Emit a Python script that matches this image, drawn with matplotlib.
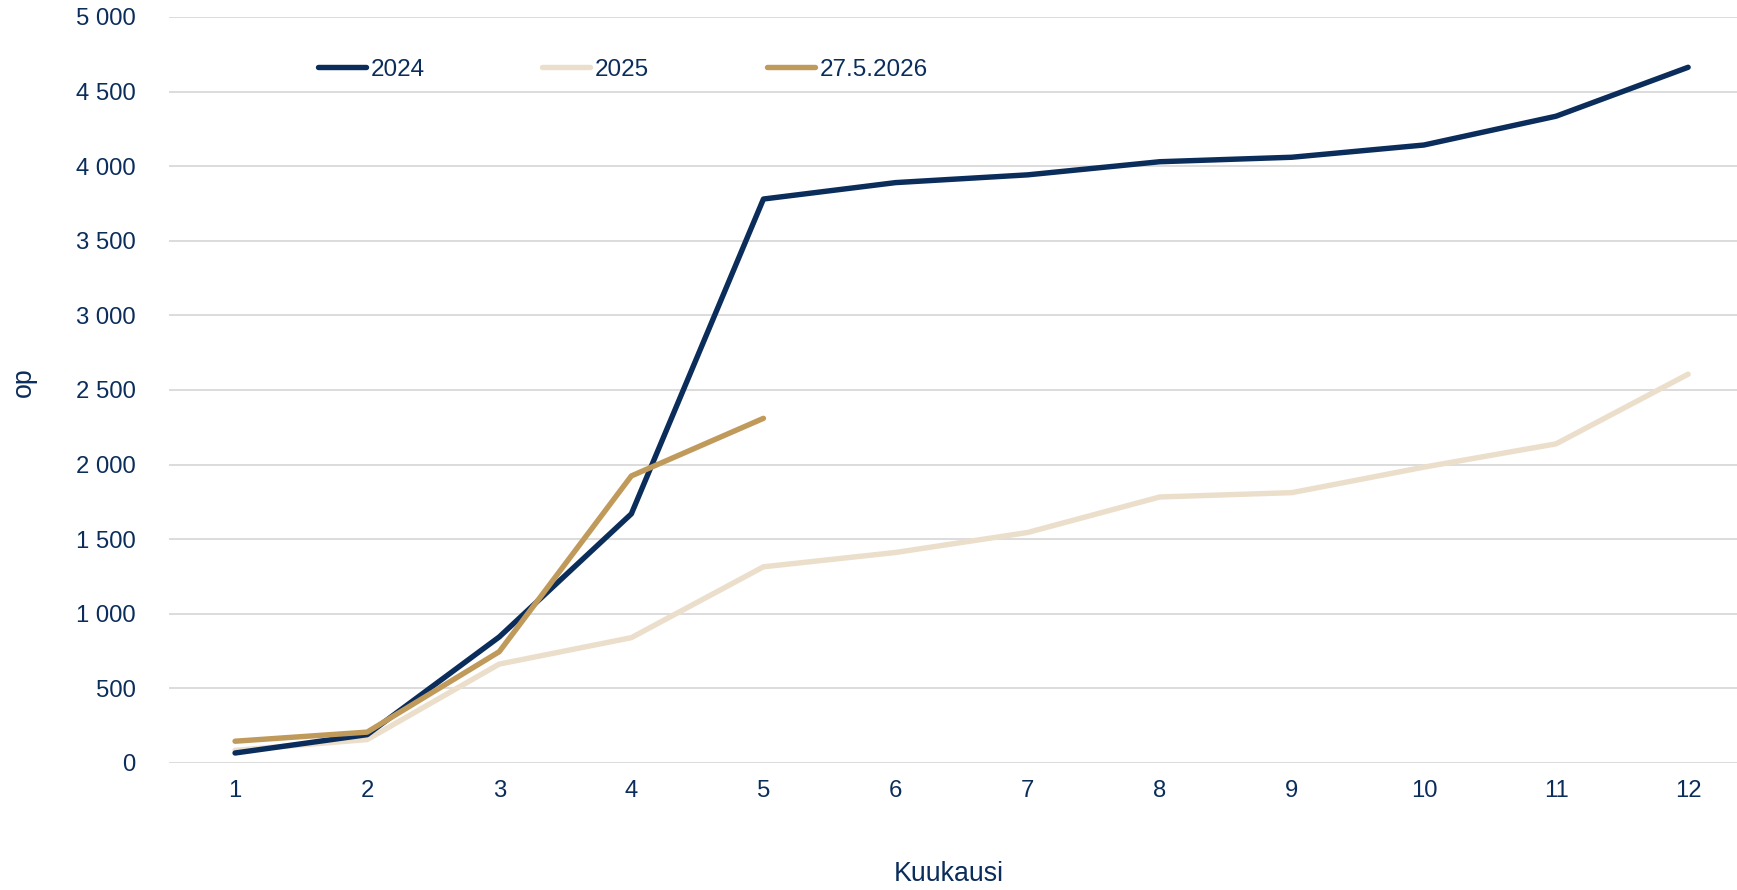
import matplotlib.pyplot as plt
from matplotlib.ticker import FuncFormatter, MultipleLocator

plt.rcParams['font.family'] = ['Liberation Sans', 'DejaVu Sans']

# Data
months = [1, 2, 3, 4, 5, 6, 7, 8, 9, 10, 11, 12]
values_2024 = [67, 190, 845, 1670, 3780, 3890, 3942, 4030, 4060, 4142, 4335, 4663]
values_2025 = [85, 157, 663, 840, 1315, 1411, 1545, 1783, 1812, 1983, 2139, 2606]
months_2026 = [1, 2, 3, 4, 5]
values_2026 = [146, 207, 746, 1924, 2310]

navy = '#0B2D5B'
beige = '#EBDFCB'
gold = '#C09A5B'
grid_col = '#D9D9D9'

fig = plt.figure(figsize=(17.37, 8.9), dpi=100)
ax = fig.add_axes([0.0973, 0.1427, 0.9027, 0.8382])

ax.plot(months, values_2024, color=navy, lw=3.9, solid_capstyle='round', label='2024', zorder=3)
ax.plot(months, values_2025, color=beige, lw=3.9, solid_capstyle='round', label='2025', zorder=2)
ax.plot(months_2026, values_2026, color=gold, lw=3.9, solid_capstyle='round', label='27.5.2026', zorder=4)

ax.set_xlim(0.5, 12.37)
ax.set_ylim(0, 5000)
ax.yaxis.set_major_locator(MultipleLocator(500))
ax.yaxis.set_major_formatter(FuncFormatter(lambda v, p: f'{int(v):,}'.replace(',', ' ')))
ax.set_xticks(months)

ax.grid(axis='y', color=grid_col, lw=1.3)
ax.set_axisbelow(True)
for s in ax.spines.values():
    s.set_visible(False)
ax.tick_params(axis='both', length=0, labelsize=17.2, colors=navy)
ax.tick_params(axis='y', pad=24)
ax.tick_params(axis='x', pad=12)

fig.text(0.0138, 0.571, 'op', rotation=90, fontsize=19.3, color=navy, ha='center', va='center')
fig.text(0.546, 0.018, 'Kuukausi', fontsize=19.3, color=navy, ha='center', va='center')

leg = fig.legend(loc='upper left', bbox_to_anchor=(0.183, 0.934), ncol=3, frameon=False,
                 fontsize=17.5, handlelength=1.96, handletextpad=0.2, columnspacing=4.85,
                 borderpad=0, borderaxespad=0)
for t in leg.get_texts():
    t.set_color(navy)

fig.savefig('out.png', dpi=100)
